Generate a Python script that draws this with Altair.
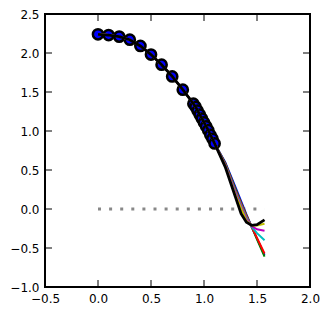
import altair as alt
import pandas as pd

# ---- data ----
base_x = [0.0, 0.1, 0.2, 0.3, 0.4, 0.5, 0.6, 0.7, 0.8,
          0.9, 0.92, 0.94, 0.96, 0.98, 1.0, 1.02, 1.04, 1.06, 1.08, 1.1]
base_y = [2.24, 2.23, 2.21, 2.17, 2.09, 1.98, 1.85, 1.70, 1.53,
          1.35, 1.31, 1.26, 1.21, 1.16, 1.11, 1.06, 1.01, 0.95, 0.90, 0.84]

tail_x = [1.2, 1.3, 1.35, 1.4, 1.45, 1.5, 1.571]
tail_b = [0.60, 0.27, 0.10, -0.07, -0.23, -0.38, -0.59]
tail_g = [0.59, 0.25, 0.08, -0.08, -0.23, -0.39, -0.61]
tail_r = [0.58, 0.23, 0.07, -0.09, -0.23, -0.37, -0.57]
tail_c = [0.57, 0.21, 0.05, -0.11, -0.23, -0.31, -0.40]
tail_m = [0.56, 0.19, 0.03, -0.13, -0.22, -0.26, -0.28]
tail_y = [0.55, 0.17, 0.01, -0.15, -0.21, -0.21, -0.19]
tail_k = [0.54, 0.14, -0.06, -0.17, -0.21, -0.20, -0.14]

series_names = ["b", "g", "r", "c", "m", "y", "k"]
series_tails = [tail_b, tail_g, tail_r, tail_c, tail_m, tail_y, tail_k]
series_colors = ["#0000ff", "#008000", "#ff0000", "#00bfbf", "#bf00bf", "#bfbf00", "#000000"]
series_widths = [2, 2, 2, 2, 2, 2, 2.8]

zero_x = [0.0, 1.571]
zero_y = [0.0, 0.0]

x_ticks = [-0.5, 0.0, 0.5, 1.0, 1.5, 2.0]
y_ticks = [-1.0, -0.5, 0.0, 0.5, 1.0, 1.5, 2.0, 2.5]

W, H = 265, 273
TL = 7

xs = alt.Scale(domain=[-0.5, 2.0], nice=False, zero=False)
ys = alt.Scale(domain=[-1.0, 2.5], nice=False, zero=False)
lab = dict(ticks=False, tickSize=0, domain=False, grid=False, labelFont="DejaVu Sans",
           labelFontSize=12, labelColor="black", labelFlush=False, labelOverlap=False,
           labelBound=False, format=".1f", title=None)
X = alt.X("x:Q", scale=xs, axis=alt.Axis(values=x_ticks, labelPadding=6, **lab))
Y = alt.Y("y:Q", scale=ys, axis=alt.Axis(values=y_ticks, labelPadding=6, **lab))

layers = []

zero_df = pd.DataFrame({"x": zero_x, "y": zero_y})
layers.append(alt.Chart(zero_df).mark_line(color="#888888", strokeWidth=3,
                                           strokeDash=[3, 8.1]).encode(x=X, y=Y))

pts_df = pd.DataFrame({"x": base_x, "y": base_y})
layers.append(alt.Chart(pts_df).mark_circle(fill="#0000ff", stroke="black", strokeWidth=2.5,
                                            size=105, opacity=1).encode(x=X, y=Y))

for name, tail, col, w in zip(series_names, series_tails, series_colors, series_widths):
    xx = base_x + tail_x
    yy = base_y + tail
    df = pd.DataFrame({"x": xx, "y": yy, "o": list(range(len(xx)))})
    layers.append(alt.Chart(df).mark_line(color=col, strokeWidth=w).encode(
        x=X, y=Y, order="o:Q"))

# inward ticks on all four sides
xt = pd.DataFrame({"x": x_ticks})
yt = pd.DataFrame({"y": y_ticks})
layers.append(alt.Chart(yt).mark_rule(color="black", strokeWidth=1).encode(
    y=Y, x=alt.value(0), x2=alt.value(TL)))
layers.append(alt.Chart(yt).mark_rule(color="black", strokeWidth=1).encode(
    y=Y, x=alt.value(W - TL), x2=alt.value(W)))
layers.append(alt.Chart(xt).mark_rule(color="black", strokeWidth=1).encode(
    x=X, y=alt.value(H - TL), y2=alt.value(H)))
layers.append(alt.Chart(xt).mark_rule(color="black", strokeWidth=1).encode(
    x=X, y=alt.value(0), y2=alt.value(TL)))

chart = alt.layer(*layers).properties(
    width=W, height=H,
    padding={"left": 37, "top": 6, "right": 10, "bottom": 21},
    autosize=alt.AutoSizeParams(type="none"),
    background="white",
).configure_view(stroke="black", strokeWidth=2)

chart.save("out.html", embed_options={"renderer": "svg", "actions": False})
